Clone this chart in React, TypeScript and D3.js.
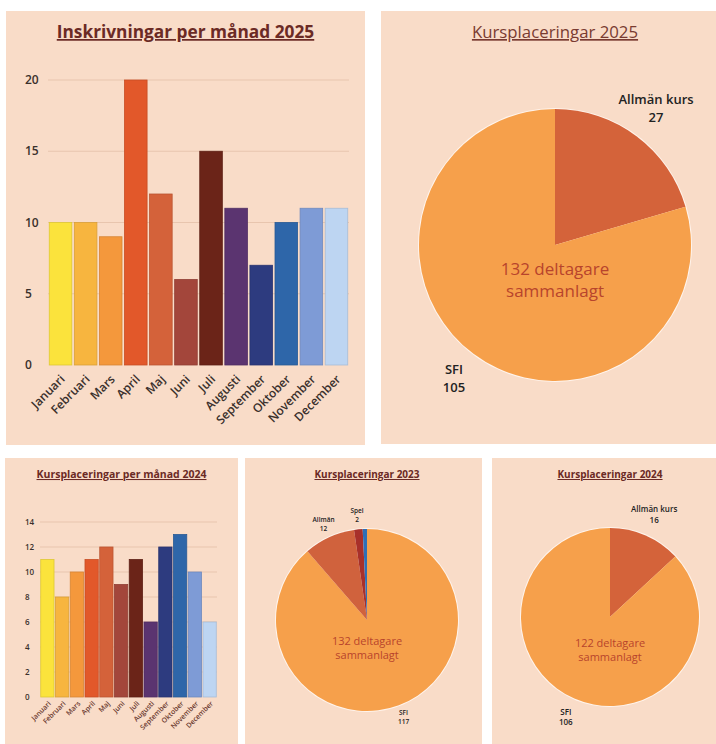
import * as d3 from 'd3';

const FONT = '"Open Sans", "DejaVu Sans", sans-serif';
const BG = '#f9dcc8';
const GRID = '#e8c5ae';
const TITLE = '#6b2a25';

// --- data ---
const months = ['Januari', 'Februari', 'Mars', 'April', 'Maj', 'Juni', 'Juli', 'Augusti', 'September', 'Oktober', 'November', 'December'];
const inskrivningar2025 = [10, 10, 9, 20, 12, 6, 15, 11, 7, 10, 11, 11];
const placeringar2024PerManad = [11, 8, 10, 11, 12, 9, 11, 6, 12, 13, 10, 6];
const monthColors = ['#fbe33c', '#f7b53f', '#f4983c', '#e2582a', '#d4623a', '#a3463b', '#6b2418', '#5b3470', '#2d3b7f', '#2e66a9', '#7e9bd6', '#bdd5f2'];
const ticks2025 = [0, 5, 10, 15, 20];
const ticks2024 = [0, 2, 4, 6, 8, 10, 12, 14];

const kurs2025Labels = ['Allmän kurs', 'SFI'];
const kurs2025Values = [27, 105];
const kurs2025Colors = ['#d4633a', '#f6a04b'];

const kurs2023Labels = ['SFI', 'Allmän', 'Spel', ''];
const kurs2023Values = [117, 12, 2, 1];
const kurs2023Colors = ['#f6a04b', '#d0623d', '#a8302a', '#2d6fb8'];

const kurs2024Labels = ['Allmän kurs', 'SFI'];
const kurs2024Values = [16, 106];
const kurs2024Colors = ['#d4633a', '#f6a04b'];

type Box = { x: number; y: number; w: number; h: number };

function BarPanel(props: {
  box: Box; title: string; titleY: number; titleSize: number;
  plot: { left: number; right: number; top: number; bottom: number };
  values: number[]; ticks: number[]; tickX: number; tickSize: number;
  labelSize: number; labelColor: string; labelDx: number; labelDy: number;
}) {
  const { box, plot, values, ticks } = props;
  const x = d3.scaleBand<string>().domain(months).range([plot.left, plot.right]).paddingInner(0.1).paddingOuter(0.05);
  const y = d3.scaleLinear().domain([0, d3.max(ticks) as number]).range([plot.bottom, plot.top]);
  return (
    <g>
      <rect x={box.x} y={box.y} width={box.w} height={box.h} fill={BG} />
      <text x={box.x + box.w / 2} y={props.titleY} textAnchor="middle" fontSize={props.titleSize}
        fontWeight="bold" fill={TITLE} textDecoration="underline">{props.title}</text>
      {ticks.map(t => (
        <g key={t}>
          {t > 0 && <line x1={plot.left} x2={plot.right} y1={y(t)} y2={y(t)} stroke={GRID} strokeWidth={1} />}
          <text x={props.tickX} y={y(t)} dy="0.35em" fontSize={props.tickSize} fontWeight={600} fill="#3a302c">{t}</text>
        </g>
      ))}
      {values.map((v, i) => (
        <rect key={months[i]} x={x(months[i])} y={y(v)} width={x.bandwidth()} height={y(0) - y(v)}
          fill={monthColors[i]} stroke={d3.color(monthColors[i])!.darker(0.35).formatHex()} strokeWidth={0.8} />
      ))}
      {months.map(m => (
        <text key={m} textAnchor="end" fontSize={props.labelSize} fontWeight={600} fill={props.labelColor}
          transform={`translate(${(x(m) as number) + x.bandwidth() / 2 + props.labelDx},${plot.bottom + props.labelDy}) rotate(-45)`}>
          {m}
        </text>
      ))}
    </g>
  );
}

function PiePanel(props: {
  box: Box; title: string; titleY: number; titleSize: number; titleBold: boolean;
  cx: number; cy: number; r: number;
  labels: string[]; values: number[]; colors: string[];
  labelSize: number; labelFactor: number;
  centerSize: number; centerDy: number;
}) {
  const { box, cx, cy, r, values } = props;
  const arcs = d3.pie<number>().sort(null).value(d => d)(values);
  const arc = d3.arc<d3.PieArcDatum<number>>().innerRadius(0).outerRadius(r);
  const labelArc = d3.arc<d3.PieArcDatum<number>>().innerRadius(r * props.labelFactor).outerRadius(r * props.labelFactor);
  const total = d3.sum(values);
  const fs = props.labelSize;
  return (
    <g>
      <rect x={box.x} y={box.y} width={box.w} height={box.h} fill={BG} />
      <text x={cx} y={props.titleY} textAnchor="middle" fontSize={props.titleSize}
        fontWeight={props.titleBold ? 'bold' : 'normal'} fill={props.titleBold ? TITLE : '#7a3b31'}
        textDecoration="underline">{props.title}</text>
      <g transform={`translate(${cx},${cy})`}>
        <circle r={r + 1} fill="#fff4ec" />
        {arcs.map((a, i) => (
          <path key={i} d={arc(a) as string} fill={props.colors[i]} />
        ))}
        {arcs.map((a, i) => {
          if (!props.labels[i]) return null;
          const [lx, ly] = labelArc.centroid(a);
          return (
            <g key={'l' + i}>
              <text x={lx} y={ly - fs * 0.45} textAnchor="middle" fontSize={fs} fontWeight={600} fill="#222">{props.labels[i]}</text>
              <text x={lx} y={ly + fs * 0.92} textAnchor="middle" fontSize={fs} fontWeight={600} fill="#222">{a.data}</text>
            </g>
          );
        })}
        <text x={0} y={props.centerDy} textAnchor="middle" fontSize={props.centerSize} fill="#b8442c">{total} deltagare</text>
        <text x={0} y={props.centerDy + props.centerSize * 1.3} textAnchor="middle" fontSize={props.centerSize} fill="#b8442c">sammanlagt</text>
      </g>
    </g>
  );
}

export default function App() {
  return (
    <svg width={716} height={744} style={{ position: 'absolute', left: 0, top: 0 }} fontFamily={FONT}>
      <rect width={716} height={744} fill="#ffffff" />
      <BarPanel box={{ x: 6, y: 11, w: 359, h: 434 }} title="Inskrivningar per månad 2025" titleY={38} titleSize={17.3}
        plot={{ left: 48, right: 349, top: 80, bottom: 365 }} values={inskrivningar2025} ticks={ticks2025}
        tickX={25} tickSize={12} labelSize={12} labelColor="#3a302c" labelDx={5} labelDy={15} />
      <PiePanel box={{ x: 381, y: 11, w: 335, h: 433 }} title="Kursplaceringar 2025" titleY={38} titleSize={16.8} titleBold={false}
        cx={555} cy={245} r={136} labels={kurs2025Labels} values={kurs2025Values} colors={kurs2025Colors}
        labelSize={13} labelFactor={1.24} centerSize={17} centerDy={30} />
      <BarPanel box={{ x: 5, y: 458, w: 233, h: 286 }} title="Kursplaceringar per månad 2024" titleY={478} titleSize={10.5}
        plot={{ left: 40, right: 217, top: 522, bottom: 697 }} values={placeringar2024PerManad} ticks={ticks2024}
        tickX={25} tickSize={8} labelSize={7} labelColor="#6b3a30" labelDx={4} labelDy={7} />
      <PiePanel box={{ x: 245, y: 458, w: 237, h: 286 }} title="Kursplaceringar 2023" titleY={478} titleSize={10} titleBold={true}
        cx={367} cy={620} r={91} labels={kurs2023Labels} values={kurs2023Values} colors={kurs2023Colors}
        labelSize={6.5} labelFactor={1.15} centerSize={11} centerDy={25} />
      <PiePanel box={{ x: 492, y: 458, w: 224, h: 286 }} title="Kursplaceringar 2024" titleY={478} titleSize={10} titleBold={true}
        cx={610} cy={617} r={89} labels={kurs2024Labels} values={kurs2024Values} colors={kurs2024Colors}
        labelSize={8} labelFactor={1.24} centerSize={11} centerDy={30} />
    </svg>
  );
}
